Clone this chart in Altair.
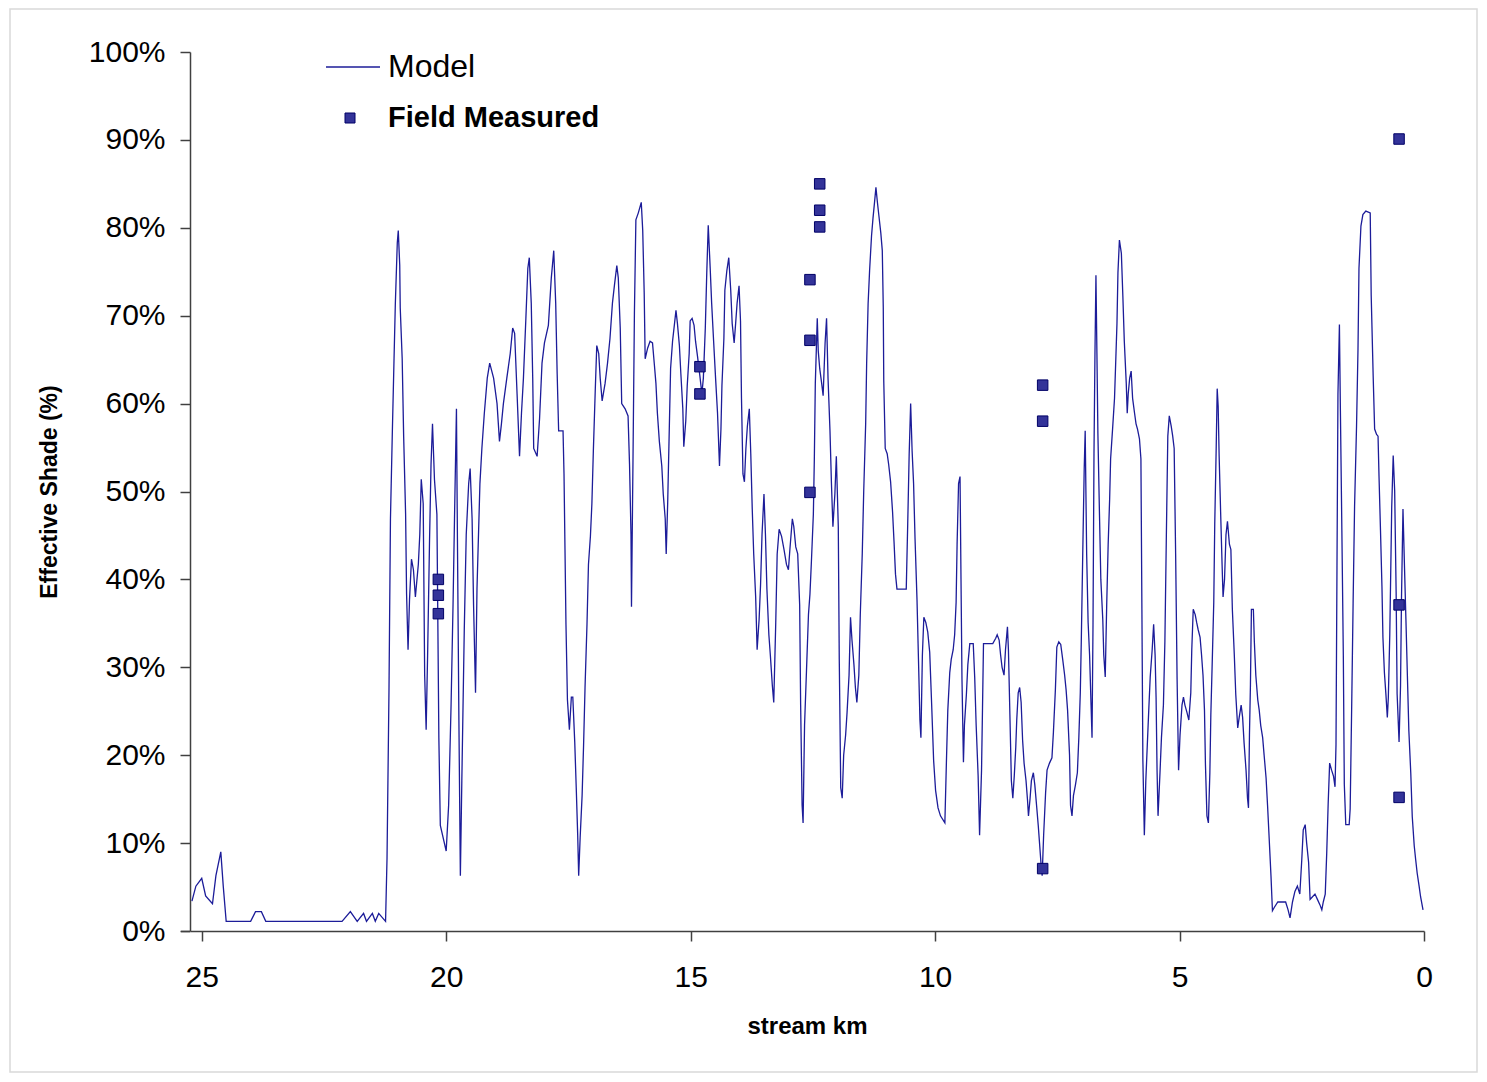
import altair as alt
import pandas as pd

# Model effective shade (stream km, % shade)
model_km = [
    25.20, 25.12, 25.00, 24.92, 24.78, 24.71, 24.61, 24.56, 24.50, 24.00, 23.90, 23.78, 23.69, 22.13,
    21.96, 21.82, 21.69, 21.63, 21.51, 21.45, 21.38, 21.24, 21.21, 21.17, 21.14, 21.10, 21.07, 21.04,
    21.00, 20.98, 20.95, 20.94, 20.90, 20.87, 20.83, 20.81, 20.78, 20.75, 20.71, 20.67, 20.63, 20.57,
    20.54, 20.51, 20.47, 20.44, 20.41, 20.38, 20.34, 20.31, 20.28, 20.24, 20.19, 20.15, 20.12, 20.05,
    20.00, 19.95, 19.90, 19.86, 19.83, 19.79, 19.77, 19.74, 19.71, 19.68, 19.63, 19.59, 19.54, 19.51,
    19.47, 19.44, 19.40, 19.37, 19.31, 19.27, 19.22, 19.16, 19.11, 19.03, 18.96, 18.91, 18.87, 18.83,
    18.76, 18.69, 18.64, 18.60, 18.55, 18.50, 18.46, 18.42, 18.37, 18.33, 18.30, 18.26, 18.23, 18.21,
    18.14, 18.09, 18.04, 17.99, 17.91, 17.85, 17.80, 17.76, 17.73, 17.70, 17.61, 17.59, 17.57, 17.55,
    17.52, 17.48, 17.44, 17.41, 17.37, 17.34, 17.31, 17.29, 17.26, 17.22, 17.19, 17.16, 17.12, 17.09,
    17.05, 17.02, 16.99, 16.95, 16.92, 16.88, 16.85, 16.81, 16.75, 16.70, 16.65, 16.60, 16.56, 16.51,
    16.48, 16.44, 16.41, 16.34, 16.28, 16.25, 16.22, 16.21, 16.18, 16.15, 16.12, 16.07, 16.01, 15.98,
    15.95, 15.93, 15.88, 15.83, 15.78, 15.74, 15.71, 15.68, 15.64, 15.59, 15.56, 15.52, 15.50, 15.47,
    15.44, 15.41, 15.37, 15.33, 15.30, 15.27, 15.23, 15.20, 15.16, 15.14, 15.10, 15.07, 15.03, 15.01,
    14.97, 14.93, 14.90, 14.86, 14.81, 14.77, 14.74, 14.70, 14.67, 14.64, 14.60, 14.57, 14.53, 14.49,
    14.45, 14.41, 14.38, 14.36, 14.32, 14.30, 14.26, 14.22, 14.18, 14.15, 14.11, 14.08, 14.05, 14.01,
    13.98, 13.96, 13.93, 13.90, 13.87, 13.84, 13.80, 13.77, 13.74, 13.71, 13.67, 13.64, 13.60, 13.57,
    13.54, 13.50, 13.47, 13.44, 13.40, 13.37, 13.33, 13.30, 13.26, 13.23, 13.19, 13.14, 13.09, 13.04,
    13.00, 12.97, 12.92, 12.89, 12.85, 12.81, 12.77, 12.75, 12.72, 12.70, 12.67, 12.63, 12.59, 12.56,
    12.53, 12.49, 12.47, 12.45, 12.41, 12.39, 12.36, 12.32, 12.29, 12.25, 12.22, 12.19, 12.15, 12.12,
    12.09, 12.05, 12.02, 11.98, 11.96, 11.93, 11.90, 11.87, 11.83, 11.80, 11.76, 11.73, 11.70, 11.66,
    11.63, 11.60, 11.56, 11.53, 11.49, 11.46, 11.42, 11.40, 11.37, 11.34, 11.30, 11.27, 11.23, 11.21,
    11.18, 11.15, 11.11, 11.08, 11.06, 11.05, 11.02, 10.98, 10.95, 10.91, 10.87, 10.84, 10.81, 10.78,
    10.59, 10.56, 10.53, 10.50, 10.47, 10.44, 10.41, 10.37, 10.34, 10.31, 10.29, 10.26, 10.23, 10.19,
    10.15, 10.11, 10.07, 10.03, 9.99, 9.94, 9.89, 9.80, 9.77, 9.74, 9.70, 9.67, 9.63, 9.60,
    9.57, 9.55, 9.52, 9.49, 9.47, 9.45, 9.42, 9.40, 9.36, 9.33, 9.29, 9.22, 9.19, 9.16,
    9.12, 9.09, 9.05, 9.03, 9.01, 8.82, 8.76, 8.73, 8.69, 8.66, 8.63, 8.59, 8.56, 8.52,
    8.50, 8.47, 8.44, 8.41, 8.38, 8.35, 8.33, 8.30, 8.27, 8.24, 8.21, 8.18, 8.14, 8.11,
    8.09, 8.06, 8.03, 7.99, 7.96, 7.92, 7.89, 7.86, 7.83, 7.81, 7.78, 7.74, 7.71, 7.66,
    7.61, 7.58, 7.54, 7.51, 7.47, 7.43, 7.39, 7.35, 7.32, 7.29, 7.25, 7.23, 7.20, 7.17,
    7.13, 7.09, 7.06, 7.03, 7.01, 6.98, 6.95, 6.93, 6.90, 6.87, 6.84, 6.81, 6.79, 6.77,
    6.75, 6.73, 6.71, 6.69, 6.67, 6.64, 6.61, 6.57, 6.55, 6.52, 6.49, 6.46, 6.43, 6.41,
    6.37, 6.33, 6.31, 6.28, 6.26, 6.23, 6.19, 6.16, 6.13, 6.09, 6.07, 6.05, 6.02, 5.99,
    5.96, 5.92, 5.89, 5.86, 5.82, 5.79, 5.77, 5.75, 5.72, 5.69, 5.66, 5.63, 5.60, 5.56,
    5.53, 5.50, 5.48, 5.46, 5.44, 5.40, 5.37, 5.33, 5.30, 5.27, 5.24, 5.21, 5.17, 5.14,
    5.11, 5.08, 5.05, 5.02, 4.99, 4.95, 4.92, 4.89, 4.85, 4.81, 4.77, 4.75, 4.72, 4.68,
    4.65, 4.62, 4.58, 4.55, 4.52, 4.49, 4.47, 4.44, 4.41, 4.38, 4.36, 4.33, 4.30, 4.28,
    4.25, 4.23, 4.21, 4.19, 4.16, 4.13, 4.11, 4.08, 4.05, 4.02, 3.98, 3.95, 3.92, 3.88,
    3.85, 3.81, 3.78, 3.74, 3.71, 3.68, 3.64, 3.61, 3.59, 3.57, 3.55, 3.53, 3.49, 3.47,
    3.44, 3.40, 3.37, 3.34, 3.30, 3.27, 3.23, 3.20, 3.17, 3.13, 3.10, 3.06, 2.99, 2.83,
    2.78, 2.74, 2.69, 2.64, 2.59, 2.54, 2.50, 2.47, 2.43, 2.40, 2.36, 2.33, 2.28, 2.23,
    2.18, 2.13, 2.09, 2.06, 2.02, 1.99, 1.96, 1.93, 1.89, 1.85, 1.82, 1.80, 1.78, 1.76,
    1.73, 1.71, 1.68, 1.65, 1.63, 1.60, 1.53, 1.51, 1.48, 1.45, 1.42, 1.38, 1.35, 1.33,
    1.29, 1.25, 1.19, 1.10, 1.08, 1.04, 1.01, 0.97, 0.94, 0.92, 0.89, 0.86, 0.84, 0.81,
    0.78, 0.75, 0.73, 0.70, 0.66, 0.63, 0.60, 0.57, 0.55, 0.51, 0.48, 0.46, 0.43, 0.40,
    0.37, 0.34, 0.31, 0.27, 0.24, 0.20, 0.17, 0.14, 0.10, 0.07, 0.02,
]
model_shade = [
    3.4, 5.1, 6.0, 4.0, 3.1, 6.3, 9.0, 5.1, 1.1, 1.1, 2.2, 2.2, 1.1, 1.1,
    2.2, 1.1, 2.0, 1.1, 2.0, 1.1, 2.0, 1.1, 8.3, 27.4, 46.9, 57.1, 64.3, 71.4,
    78.3, 79.7, 75.7, 70.9, 65.1, 56.3, 47.4, 38.3, 32.0, 37.7, 42.3, 41.1, 38.0, 41.7,
    45.1, 51.4, 48.6, 29.1, 22.9, 31.4, 44.6, 53.1, 57.7, 51.4, 47.4, 22.0, 12.0, 10.3,
    9.1, 14.3, 25.7, 37.1, 46.9, 59.4, 44.6, 24.0, 6.3, 17.1, 34.3, 45.1, 50.9, 52.6,
    46.9, 37.1, 27.1, 38.9, 50.9, 54.9, 58.9, 62.9, 64.6, 62.9, 60.0, 55.7, 57.7, 60.0,
    62.9, 65.7, 68.6, 68.0, 61.1, 54.0, 58.9, 62.9, 69.7, 75.4, 76.6, 71.4, 62.9, 54.9,
    54.0, 58.3, 64.6, 66.9, 68.9, 74.3, 77.4, 71.4, 63.4, 56.9, 56.9, 52.0, 43.4, 34.9,
    26.3, 22.9, 26.6, 26.6, 21.4, 16.3, 10.9, 6.3, 10.6, 15.4, 21.1, 27.7, 34.9, 41.7,
    44.9, 48.6, 54.6, 61.7, 66.6, 65.7, 62.9, 60.3, 62.3, 64.6, 67.4, 71.4, 73.4, 75.7,
    74.3, 68.6, 60.0, 59.4, 58.6, 53.1, 45.1, 36.9, 53.1, 70.3, 80.9, 81.7, 82.9, 79.7,
    72.6, 65.1, 66.3, 67.1, 66.9, 64.3, 62.3, 58.9, 55.7, 52.9, 49.7, 46.9, 42.9, 48.6,
    56.3, 64.0, 67.1, 69.1, 70.6, 69.1, 66.6, 63.4, 59.4, 55.1, 58.0, 62.0, 65.7, 69.4,
    69.7, 68.9, 67.1, 65.4, 63.1, 61.1, 62.9, 68.6, 74.9, 80.3, 75.4, 71.4, 67.1, 62.9,
    58.9, 52.9, 57.1, 62.0, 67.4, 72.9, 75.1, 76.6, 72.9, 69.1, 66.9, 69.1, 71.4, 73.4,
    69.4, 60.6, 52.0, 51.1, 54.9, 57.4, 59.4, 54.3, 48.0, 42.9, 38.0, 32.0, 35.4, 39.4,
    45.1, 49.7, 45.1, 38.9, 33.7, 31.4, 28.0, 26.0, 34.9, 42.9, 45.7, 44.9, 43.4, 41.7,
    41.1, 43.4, 46.9, 46.0, 43.7, 42.9, 37.1, 25.7, 14.3, 12.3, 23.4, 29.7, 36.0, 38.3,
    42.0, 47.4, 53.7, 62.3, 69.7, 66.0, 64.0, 62.3, 60.9, 66.9, 69.7, 62.9, 56.9, 50.9,
    46.0, 49.7, 54.0, 46.0, 30.9, 16.3, 15.1, 20.0, 22.3, 24.9, 29.1, 35.7, 33.1, 30.3,
    27.7, 26.0, 29.1, 36.0, 42.9, 50.0, 57.7, 64.6, 71.4, 75.1, 79.1, 81.1, 83.4, 84.6,
    82.9, 81.4, 79.4, 77.4, 70.9, 62.6, 54.9, 54.3, 53.1, 51.1, 47.7, 44.3, 40.6, 38.9,
    38.9, 46.3, 54.3, 60.0, 54.6, 50.9, 44.6, 37.7, 30.9, 24.0, 22.0, 31.4, 35.7, 35.1,
    34.0, 31.7, 25.7, 19.4, 16.0, 14.0, 13.1, 12.3, 18.9, 25.1, 29.4, 30.9, 32.0, 33.7,
    37.4, 44.0, 50.9, 51.7, 40.0, 28.6, 19.2, 23.4, 26.9, 30.3, 32.7, 32.7, 28.9, 23.4,
    17.7, 10.9, 18.3, 25.4, 32.7, 32.7, 33.3, 33.7, 33.1, 31.4, 30.0, 29.1, 32.0, 34.6,
    32.0, 24.6, 17.1, 15.1, 17.7, 20.9, 24.0, 27.1, 27.7, 26.0, 21.7, 19.1, 17.1, 14.9,
    13.1, 14.9, 17.1, 18.0, 16.6, 14.0, 12.0, 9.7, 7.4, 6.3, 10.9, 15.7, 18.3, 19.1,
    19.7, 22.6, 27.4, 32.3, 32.9, 32.6, 30.9, 29.1, 27.4, 25.1, 20.0, 14.3, 13.1, 15.4,
    16.6, 18.0, 22.0, 27.1, 32.9, 42.9, 52.6, 56.9, 42.9, 35.1, 31.4, 25.7, 22.0, 34.9,
    54.3, 65.7, 74.6, 65.7, 56.6, 48.0, 40.0, 35.4, 31.4, 28.9, 37.1, 44.0, 49.1, 53.7,
    57.1, 60.6, 64.0, 69.1, 74.9, 78.6, 77.1, 72.3, 67.1, 62.3, 58.9, 61.1, 62.9, 63.7,
    60.6, 58.9, 57.7, 57.1, 56.0, 53.7, 36.6, 19.4, 10.9, 17.1, 21.1, 25.1, 28.9, 32.0,
    34.9, 31.4, 26.6, 18.3, 13.1, 18.0, 22.0, 25.7, 32.9, 44.9, 56.3, 58.6, 57.4, 56.3,
    54.9, 42.9, 28.6, 18.3, 22.3, 25.7, 26.6, 25.7, 24.9, 24.0, 27.1, 32.0, 36.6, 36.0,
    35.1, 34.3, 33.4, 31.4, 29.1, 25.1, 18.9, 13.1, 12.3, 18.0, 24.6, 30.9, 37.4, 46.3,
    55.1, 61.7, 59.7, 54.0, 47.7, 41.7, 38.0, 40.0, 45.1, 46.6, 44.0, 43.4, 36.6, 31.4,
    26.9, 23.1, 24.3, 25.7, 24.3, 21.4, 18.3, 15.1, 14.0, 22.3, 28.0, 36.6, 36.6, 32.9,
    29.1, 26.3, 25.1, 23.4, 22.0, 20.0, 17.4, 14.3, 10.9, 6.3, 2.3, 2.7, 3.3, 3.3,
    2.4, 1.5, 3.3, 4.5, 5.1, 4.2, 8.1, 11.5, 12.1, 10.0, 7.8, 3.6, 3.9, 4.2,
    3.6, 3.0, 2.4, 3.3, 4.2, 8.8, 14.5, 19.1, 18.3, 17.6, 16.4, 21.2, 41.3, 61.1,
    69.0, 59.2, 45.6, 31.3, 16.7, 12.1, 12.1, 13.9, 25.2, 37.3, 48.3, 57.4, 66.2, 75.4,
    80.2, 81.5, 81.9, 81.7, 72.3, 63.2, 57.1, 56.5, 56.3, 51.7, 45.6, 39.2, 33.4, 29.4,
    27.0, 24.3, 26.5, 33.7, 48.3, 54.1, 50.1, 38.6, 27.0, 21.5, 27.9, 38.0, 48.0, 41.6,
    35.5, 29.1, 22.8, 17.9, 13.0, 9.7, 8.1, 6.6, 5.1, 3.9, 2.4,
]

# Field measured effective shade
field_km = [20.16, 20.16, 20.16, 14.81, 14.81, 12.56, 12.56, 12.56, 12.36, 12.36, 12.36,
            7.80, 7.80, 7.80, 0.51, 0.51, 0.51]
field_shade = [40.0, 38.2, 36.1, 64.2, 61.1, 74.1, 67.2, 49.9, 85.0, 82.0, 80.1,
               62.1, 58.0, 7.1, 90.1, 37.1, 15.2]

# Axis labels / legend text
x_ticks = [0, 5, 10, 15, 20, 25]
y_ticks = [0, 10, 20, 30, 40, 50, 60, 70, 80, 90, 100]
x_title = "stream km"
y_title = "Effective Shade (%)"
legend_labels = ["Model", "Field Measured"]

n = min(len(model_km), len(model_shade))
model_df = pd.DataFrame({"km": model_km[:n], "shade": model_shade[:n], "idx": list(range(n))})
field_df = pd.DataFrame({"km": field_km, "shade": field_shade})

FONT = "Liberation Sans"
LINE_COLOR = "#1c1c99"
MARK_FILL = "#333399"
MARK_STROKE = "#000066"
AXIS_COLOR = "#404040"

W, H = 1234, 879
PAD = {"left": 182, "top": 44, "right": 55, "bottom": 143}

x_scale = alt.Scale(domain=[0, 25.24], reverse=True, nice=False, zero=False)
y_scale = alt.Scale(domain=[0, 100], nice=False)

x_axis = alt.Axis(values=x_ticks, title=x_title, grid=False, tickSize=10,
                  labelFontSize=30, labelPadding=21, labelFont=FONT, labelColor="#000000",
                  titleFont=FONT, titleFontSize=24, titleFontWeight="bold", titleColor="#000000",
                  titlePadding=22, domainColor=AXIS_COLOR, domainWidth=1.5,
                  tickColor=AXIS_COLOR, tickWidth=1.5, labelFlush=False)
y_axis = alt.Axis(values=y_ticks, title=y_title, grid=False, tickSize=10,
                  labelExpr="datum.value + '%'",
                  labelFontSize=30, labelPadding=15, labelFont=FONT, labelColor="#000000",
                  titleFont=FONT, titleFontSize=23, titleFontWeight="bold", titleColor="#000000",
                  titlePadding=27, domainColor=AXIS_COLOR, domainWidth=1.5,
                  tickColor=AXIS_COLOR, tickWidth=1.5, labelFlush=False)

line = alt.Chart(model_df).mark_line(color=LINE_COLOR, strokeWidth=1.3).encode(
    x=alt.X("km:Q", scale=x_scale, axis=x_axis),
    y=alt.Y("shade:Q", scale=y_scale, axis=y_axis),
    order="idx:Q",
)

points = alt.Chart(field_df).mark_square(size=110, filled=True, color=MARK_FILL,
                                         stroke=MARK_STROKE, strokeWidth=1, opacity=1).encode(
    x=alt.X("km:Q", scale=x_scale),
    y=alt.Y("shade:Q", scale=y_scale),
)

dummy = alt.Data(values=[{"a": 1}])

legend_line = alt.Chart(dummy).mark_rule(color=LINE_COLOR, strokeWidth=1.3).encode(
    x=alt.value(136), x2=alt.value(190), y=alt.value(15)
)
legend_sq = alt.Chart(dummy).mark_square(size=100, filled=True, color=MARK_FILL,
                                          stroke=MARK_STROKE, strokeWidth=1, opacity=1).encode(
    x=alt.value(160), y=alt.value(66)
)
legend_t1 = alt.Chart(dummy).mark_text(align="left", baseline="middle", font=FONT,
                                        fontSize=32, color="#000000").encode(
    x=alt.value(198), y=alt.value(15), text=alt.value(legend_labels[0])
)
legend_t2 = alt.Chart(dummy).mark_text(align="left", baseline="middle", font=FONT,
                                        fontSize=29, fontWeight="bold", color="#000000").encode(
    x=alt.value(198), y=alt.value(66), text=alt.value(legend_labels[1])
)
# x-axis line continues a little left of the y axis, as in the original
axis_stub = alt.Chart(dummy).mark_rule(color=AXIS_COLOR, strokeWidth=1.5).encode(
    x=alt.value(-9), x2=alt.value(0), y=alt.value(H + 0.5)
)
border = alt.Chart(dummy).mark_rect(fill="transparent", stroke="#d9d9d9", strokeWidth=1.5).encode(
    x=alt.value(-180), x2=alt.value(W + PAD["right"] - 2),
    y=alt.value(-43), y2=alt.value(H + PAD["bottom"] - 2)
)

chart = alt.layer(border, line, points, axis_stub, legend_line, legend_sq, legend_t1, legend_t2).properties(
    width=W,
    height=H,
    autosize=alt.AutoSizeParams(type="none"),
    padding=PAD,
    background="white",
).configure_view(strokeWidth=0)

chart.save("out.html", embed_options={"renderer": "svg", "actions": False})
